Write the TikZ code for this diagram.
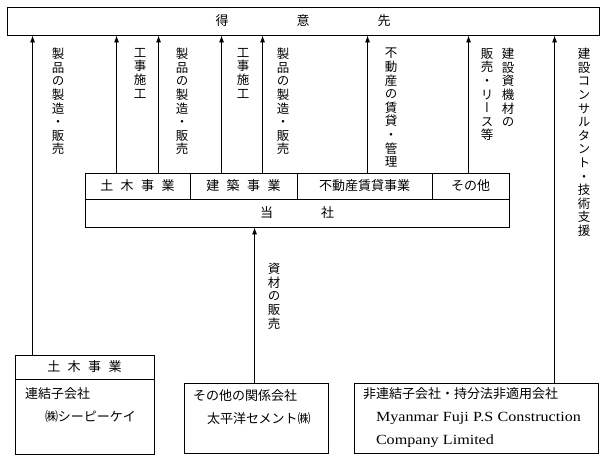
\documentclass[tikz,border=0pt]{standalone}
\usepackage{fontspec}
\setmainfont{Noto Sans CJK JP}
\newfontfamily\jpvert[RawFeature=+vert]{Noto Sans CJK JP}
\newfontfamily\latin[FakeStretch=1.15]{Liberation Serif}
\usetikzlibrary{arrows.meta}
\tikzstyle{box} = [rectangle, draw=black, line width=0.9pt, inner sep=0pt, font=\fontsize{13}{23}\selectfont]
\tikzstyle{note} = [box, align=left, inner xsep=9pt, minimum height=70pt]
\tikzstyle{arrow} = [line width=0.8pt, ->, >={Latex[length=7pt,width=5pt]}]
\tikzstyle{vlabel} = [anchor=north, inner sep=0pt, font=\fontsize{12.5}{13.5}\selectfont]
% one character per line, for the labels along the arrows
\newcommand\vtext[1]{\vbox{\jpvert\baselineskip=13.6pt\vtextloop#1\relax}}
\def\vtextloop#1{\ifx\relax#1\else\hbox to 13pt{\hss#1\hss}\expandafter\vtextloop\fi}

\begin{document}
\begin{tikzpicture}[x=1pt,y=1pt]
        \useasboundingbox (0,0) rectangle (608,-460);

        \draw (303,-21) node[box, minimum width=592pt, minimum height=28pt] (cust)
        {得\hspace{68pt}意\hspace{68pt}先\hspace{4pt}};

        % company and its divisions
        \draw (137.5,-186) node[box, minimum width=105pt, minimum height=26pt] (civ)
        {土\hspace{7.5pt}木\hspace{7.5pt}事\hspace{7.5pt}業};
        \draw (243.5,-186) node[box, minimum width=107pt, minimum height=26pt] (arch)
        {建\hspace{7.5pt}築\hspace{7.5pt}事\hspace{7.5pt}業};
        \draw (364.5,-186) node[box, minimum width=135pt, minimum height=26pt] (real) {不動産賃貸事業};
        \draw (470.5,-186) node[box, minimum width=77pt, minimum height=26pt] (other) {その他};
        \draw (297,-213) node[box, minimum width=424pt, minimum height=28pt] (us)
        {当\hspace{48pt}社\hspace{21pt}};

        % group companies
        \draw (84.5,-367) node[box, minimum width=139pt, minimum height=24pt] (lchead)
        {土\hspace{7.5pt}木\hspace{7.5pt}事\hspace{7.5pt}業};
        \draw (84.5,-416.5) node[note, inner xsep=10pt, text width=119pt, minimum height=75pt] (lcbody)
        {連結子会社\\\hspace{20pt}㈱シーピーケイ\\\mbox{}};
        \draw (256,-418) node[note, text width=126pt] (assoc)
        {その他の関係会社\\\hspace{14pt}太平洋セメント㈱\\\mbox{}};
        \draw (476,-418) node[note, text width=226pt] (uncons)
        {非連結子会社・持分法非適用会社\\\hspace{13pt}{\latin\fontsize{14}{23}\selectfont Myanmar Fuji P.S Construction}\\
        \hspace{13pt}{\latin\fontsize{14}{23}\selectfont Company Limited}};

        % flows to the customers
        \draw[arrow] ([xshift=18pt]lchead.north west) -- ([xshift=18pt]lchead.north west |- cust.south);
        \draw[arrow] ([xshift=32pt]civ.north west) -- ([xshift=32pt]civ.north west |- cust.south);
        \draw[arrow] ([xshift=74pt]civ.north west) -- ([xshift=74pt]civ.north west |- cust.south);
        \draw[arrow] ([xshift=32pt]arch.north west) -- ([xshift=32pt]arch.north west |- cust.south);
        \draw[arrow] ([xshift=73pt]arch.north west) -- ([xshift=73pt]arch.north west |- cust.south);
        \draw[arrow] ([xshift=71pt]real.north west) -- ([xshift=71pt]real.north west |- cust.south);
        \draw[arrow] ([xshift=37pt]other.north west) -- ([xshift=37pt]other.north west |- cust.south);
        \draw[arrow] ([xshift=201pt]uncons.north west) -- ([xshift=201pt]uncons.north west |- cust.south);
        \draw[arrow] ([xshift=71pt]assoc.north west) -- ([xshift=71pt]assoc.north west |- us.south);

        \node[vlabel] (l1) at (58,-48) {\vtext{製品の製造・販売}};
        \node[vlabel] (l2) at (140,-48) {\vtext{工事施工}};
        \node[vlabel] (l3) at (182,-48) {\vtext{製品の製造・販売}};
        \node[vlabel] (l4) at (243,-48) {\vtext{工事施工}};
        \node[vlabel] (l5) at (283,-48) {\vtext{製品の製造・販売}};
        \node[vlabel] (l6) at (391,-48) {\vtext{不動産の賃貸・管理}};
        \node[vlabel] (l7) at (508,-48) {\vtext{建設資機材の}};
        \node[vlabel] (l8) at (487,-48) {\vtext{販売・リース等}};
        \node[vlabel] (l9) at (584,-48) {\vtext{建設コンサルタント・技術支援}};
        \node[vlabel] (l10) at (274,-263) {\vtext{資材の販売}};
\end{tikzpicture}
\end{document}
